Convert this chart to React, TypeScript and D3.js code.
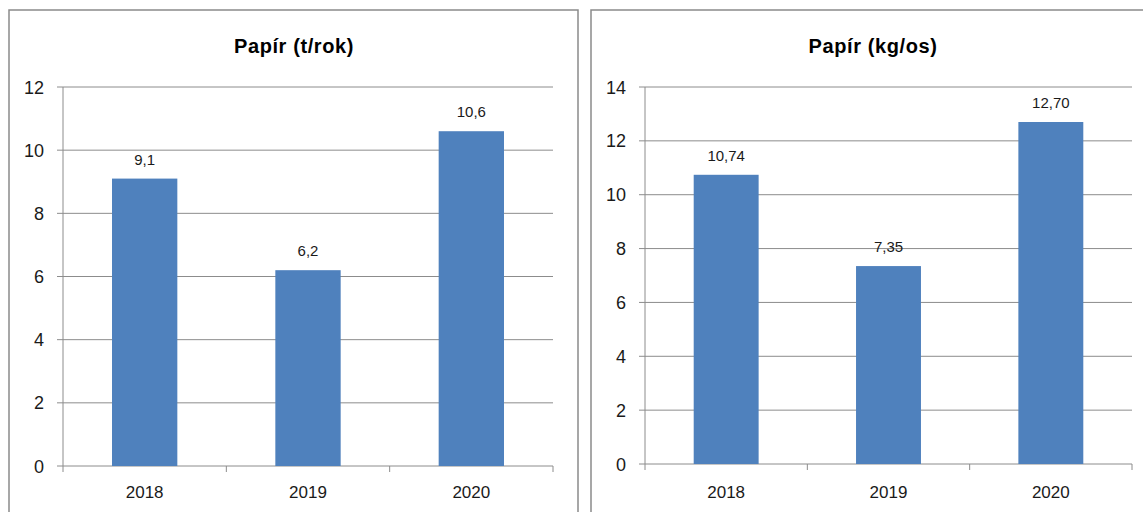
import * as React from "react"
import * as d3 from "d3"

const years = ["2018", "2019", "2020"]
const tonsPerYear = [9.1, 6.2, 10.6]
const tonsLabels = ["9,1", "6,2", "10,6"]
const kgPerPerson = [10.74, 7.35, 12.7]
const kgLabels = ["10,74", "7,35", "12,70"]
const tonsTicks = [0, 2, 4, 6, 8, 10, 12]
const kgTicks = [0, 2, 4, 6, 8, 10, 12, 14]

const BAR = "#4F81BD"
const GRID = "#8c8c8c"
const FONT = "'Liberation Sans', Arial, sans-serif"

interface PanelProps {
    title: string
    values: number[]
    labels: string[]
    ticks: number[]
    box: { x: number; y: number; w: number; h: number }
    plot: { left: number; right: number; top: number; bottom: number }
    titleX: number
}

function Panel({ title, values, labels, ticks, box, plot, titleX }: PanelProps) {
    const x = d3.scaleBand<string>().domain(years).range([plot.left, plot.right]).paddingInner(0.6).paddingOuter(0.3)
    const y = d3.scaleLinear().domain([0, d3.max(ticks)!]).range([plot.bottom, plot.top])
    const band = (plot.right - plot.left) / years.length

    return (
        <g>
            <rect x={box.x} y={box.y} width={box.w} height={box.h} fill="#fff" stroke="#8a8a8a" strokeWidth={1.5} />
            <text x={titleX} y={53} textAnchor="middle" fontFamily={FONT} fontWeight="bold" fontSize={20} letterSpacing={0.6} fill="#000">
                {title}
            </text>
            {ticks.map(t => (
                <g key={t}>
                    <line x1={plot.left - 6} x2={plot.right} y1={y(t)} y2={y(t)} stroke={GRID} strokeWidth={1} />
                    <text x={plot.left - 19} y={y(t) + 6.5} textAnchor="end" fontFamily={FONT} fontSize={18} fill="#1a1a1a">
                        {t}
                    </text>
                </g>
            ))}
            <line x1={plot.left} x2={plot.left} y1={plot.top} y2={plot.bottom} stroke={GRID} strokeWidth={1} />
            {d3.range(years.length + 1).map(i => (
                <line key={i} x1={plot.left + i * band} x2={plot.left + i * band} y1={plot.bottom} y2={plot.bottom + 6} stroke={GRID} strokeWidth={1} />
            ))}
            {values.map((v, i) => (
                <g key={years[i]}>
                    <rect x={x(years[i])} y={y(v)} width={x.bandwidth()} height={plot.bottom - y(v)} fill={BAR} />
                    <text x={x(years[i])! + x.bandwidth() / 2} y={y(v) - 14} textAnchor="middle" fontFamily={FONT} fontSize={15} fill="#1a1a1a">
                        {labels[i]}
                    </text>
                </g>
            ))}
            {years.map(yr => (
                <text key={yr} x={x(yr)! + x.bandwidth() / 2} y={498} textAnchor="middle" fontFamily={FONT} fontSize={17} fill="#1a1a1a">
                    {yr}
                </text>
            ))}
        </g>
    )
}

export default function App() {
    return (
        <svg width={1143} height={512} style={{ position: "absolute", left: 0, top: 0, background: "#fff" }}>
            <Panel
                title="Papír (t/rok)"
                values={tonsPerYear}
                labels={tonsLabels}
                ticks={tonsTicks}
                box={{ x: 9, y: 10, w: 569, h: 520 }}
                plot={{ left: 63, right: 553, top: 87, bottom: 466 }}
                titleX={294}
            />
            <Panel
                title="Papír (kg/os)"
                values={kgPerPerson}
                labels={kgLabels}
                ticks={kgTicks}
                box={{ x: 591, y: 10, w: 570, h: 520 }}
                plot={{ left: 645, right: 1132, top: 87, bottom: 464 }}
                titleX={873}
            />
        </svg>
    )
}
